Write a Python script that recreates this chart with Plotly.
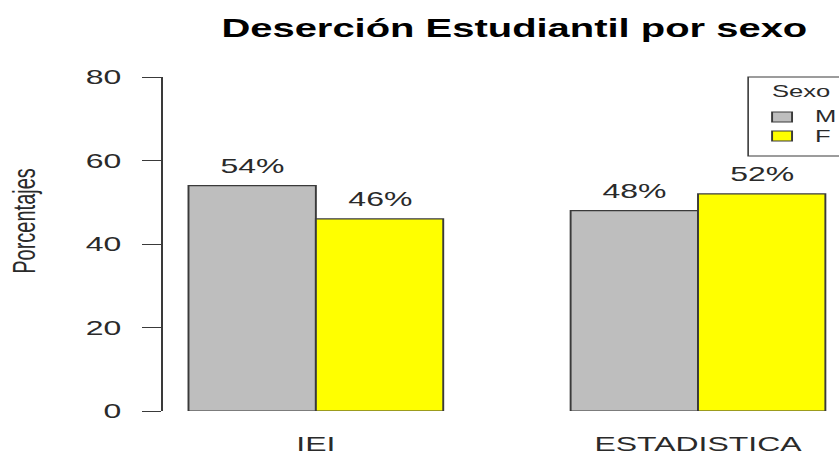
import plotly.graph_objects as go

# Data
categories = ["IEI", "ESTADISTICA"]
sexes = ["M", "F"]
porc_m = [54, 48]
porc_f = [46, 52]
bar_colors = ["#BEBEBE", "#FFFF00"]
y_ticks = [0, 20, 40, 60, 80]
title_text = "Deserción Estudiantil por sexo"
y_label = "Porcentajes"
legend_title = "Sexo"

# Canvas (drawn narrow, then widened horizontally on the page)
W, H = 525, 457
STRETCH = 839 / W
L, R, T, B = 101.7, 0, 77, 46
plot_w = W - L - R
plot_h = H - T - B
FONT = "Liberation Sans, Arial, Helvetica, sans-serif"
EDGE = "#3a3a3a"
TXT = "#2a2a2a"


def px_x(px):
    return (px - L) / plot_w


def px_y(py):
    return (H - B - py) / plot_h


fig = go.Figure()
series_vals = [porc_m, porc_f]
for name, vals, col in zip(sexes, series_vals, bar_colors):
    fig.add_bar(
        x=categories, y=vals, name=name, showlegend=False,
        marker=dict(color=col, line=dict(color=EDGE, width=1.2)),
    )

# Percentage labels above each bar
n = len(sexes)
annotations = []
for si, vals in enumerate(series_vals):
    off = -0.5 * (1 - 1 / 3) + (si + 0.5) * (2 / 3) / n
    for ci, v in enumerate(vals):
        annotations.append(dict(
            x=ci + off, y=v, xref="x", yref="y", text=f"{v}%",
            showarrow=False, yanchor="middle", yshift=20,
            font=dict(family=FONT, size=20, color=TXT),
        ))

# Y axis title
annotations.append(dict(
    x=px_x(14.4), y=px_y(221), xref="paper", yref="paper", text=y_label,
    textangle=-90, showarrow=False, xanchor="center", yanchor="middle",
    font=dict(family=FONT, size=20, color=TXT),
))

# Legend box
shapes = [dict(
    type="rect", xref="paper", yref="paper",
    x0=px_x(468.1), x1=px_x(545), y0=px_y(156), y1=px_y(77),
    line=dict(color=EDGE, width=1), fillcolor="white", layer="above",
)]
annotations.append(dict(
    x=px_x(481.2), y=px_y(92), xref="paper", yref="paper", text=legend_title,
    showarrow=False, xanchor="left", yanchor="middle",
    font=dict(family=FONT, size=16, color=TXT),
))
row_y = [117, 136]
for name, col, ry in zip(sexes, bar_colors, row_y):
    shapes.append(dict(
        type="rect", xref="paper", yref="paper",
        x0=px_x(483.1), x1=px_x(495.6), y0=px_y(ry + 5), y1=px_y(ry - 5),
        line=dict(color=EDGE, width=1.2), fillcolor=col, layer="above",
    ))
    annotations.append(dict(
        x=px_x(507.5), y=px_y(ry), xref="paper", yref="paper", text=name,
        showarrow=False, xanchor="left", yanchor="middle",
        font=dict(family=FONT, size=16, color=TXT),
    ))

fig.update_layout(
    width=W, height=H,
    margin=dict(l=L, r=R, t=T, b=B, pad=0),
    paper_bgcolor="white", plot_bgcolor="white",
    barmode="group", bargap=1 / 3, bargroupgap=0,
    title=dict(
        text=title_text, x=px_x(321.7), xref="paper", xanchor="center",
        y=1 - 28 / H, yref="container", yanchor="middle",
        font=dict(family=FONT, size=25, color="black", weight="bold"),
    ),
    xaxis=dict(
        type="category", range=[-0.4, 1.369], showline=False, showgrid=False,
        zeroline=False, ticks="", ticklabelstandoff=19,
        tickfont=dict(family=FONT, size=20, color=TXT),
    ),
    yaxis=dict(
        range=[0, 80], tickvals=y_ticks, ticks="outside", ticklen=12,
        tickwidth=1.2, tickcolor=EDGE, showline=True, linecolor=EDGE,
        linewidth=1.2, showgrid=False, zeroline=False, ticklabelstandoff=9,
        tickfont=dict(family=FONT, size=20, color=TXT),
    ),
    shapes=shapes,
    annotations=annotations,
)

post = (
    "document.body.style.margin='0';"
    "var gd=document.getElementById('{plot_id}');"
    "gd.style.transformOrigin='0 0';"
    "gd.style.transform='scaleX(" + f"{STRETCH:.5f}" + ")';"
)
fig.write_html("out.html", post_script=post, config={"displayModeBar": False})
